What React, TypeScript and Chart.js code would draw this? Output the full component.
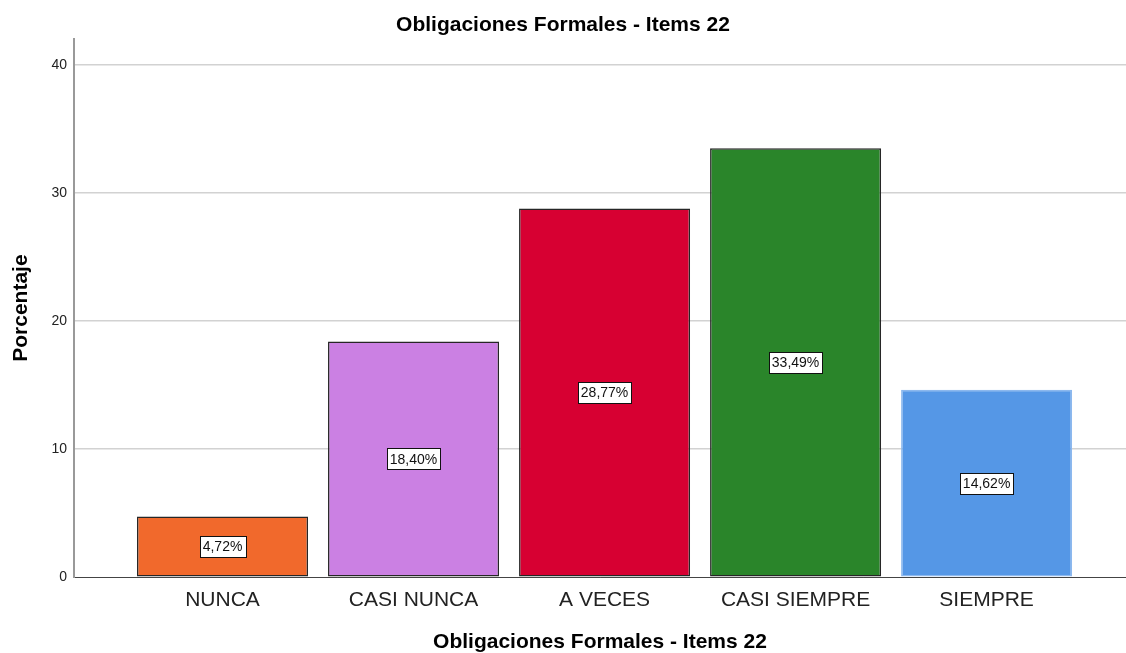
import React, { useEffect, useRef } from "react";
import { Chart, registerables } from "chart.js";

Chart.register(...registerables);

const categories = ["NUNCA", "CASI NUNCA", "A VECES", "CASI SIEMPRE", "SIEMPRE"];
const percentages = [4.72, 18.4, 28.77, 33.49, 14.62];
const yTicks = [0, 10, 20, 30, 40];
const chartTitle = "Obligaciones Formales - Items 22";
const xTitle = "Obligaciones Formales - Items 22";
const yTitle = "Porcentaje";

const fillColors = ["#F1692C", "#CB80E3", "#D70032", "#2A852A", "#5597E6"];
const edgeColors = ["#262626", "#262626", "#262626", "#262626", "#8CB8EE"];

const FONT = "'Liberation Sans', Arial, sans-serif";

const labelPlugin = {
  id: "boxLabels",
  afterDatasetsDraw(chart: any) {
    const ctx = chart.ctx;
    const meta = chart.getDatasetMeta(0);
    ctx.save();
    ctx.font = `14px ${FONT}`;
    ctx.textAlign = "center";
    ctx.textBaseline = "middle";
    meta.data.forEach((el: any, i: number) => {
      const txt = percentages[i].toFixed(2).replace(".", ",") + "%";
      const cx = el.x;
      const cy = (el.y + el.base) / 2;
      const w = ctx.measureText(txt).width + 6;
      const h = 21;
      const x0 = Math.round(cx - w / 2) + 0.5;
      const y0 = Math.round(cy - h / 2) + 0.5;
      ctx.fillStyle = "#ffffff";
      ctx.fillRect(x0, y0, Math.round(w), h);
      ctx.strokeStyle = "#111111";
      ctx.lineWidth = 1;
      ctx.strokeRect(x0, y0, Math.round(w), h);
      ctx.fillStyle = "#111111";
      ctx.fillText(txt, cx, cy + 1);
    });
    ctx.restore();
  },
};

export default function App() {
  const ref = useRef<HTMLCanvasElement | null>(null);

  useEffect(() => {
    document.body.style.margin = "0";
    document.body.style.overflow = "hidden";
    if (!ref.current) return;
    const chart = new Chart(ref.current, {
      type: "bar",
      data: {
        datasets: [
          {
            data: percentages.map((v, i) => ({ x: i, y: v })),
            backgroundColor: fillColors,
            borderColor: edgeColors,
            borderWidth: 1.5,
            borderSkipped: false,
            categoryPercentage: 1,
            barPercentage: 171 / 191,
          },
        ],
      },
      options: {
        animation: false,
        responsive: true,
        maintainAspectRatio: false,
        layout: { padding: 0 },
        plugins: {
          legend: { display: false },
          tooltip: { enabled: false },
          title: {
            display: true,
            text: chartTitle,
            color: "#000",
            font: { family: FONT, size: 21, weight: "bold" },
            padding: { top: 13, bottom: 1 },
          },
        },
        scales: {
          x: {
            type: "linear",
            offset: false,
            min: -0.7775,
            max: 4.7298,
            afterBuildTicks: (scale: any) => {
              scale.ticks = categories.map((_, i) => ({ value: i }));
            },
            afterFit: (scale: any) => {
              scale.height = 76;
            },
            ticks: {
              autoSkip: false,
              maxRotation: 0,
              padding: 11,
              color: "#222",
              font: { family: FONT, size: 21 },
              callback: (v: any) => categories[v] ?? "",
            },
            grid: { display: false, drawTicks: false, offset: false },
            border: { display: true, color: "#444", width: 1 },
            title: {
              display: true,
              text: xTitle,
              color: "#000",
              font: { family: FONT, size: 21, weight: "bold" },
              padding: { top: 0, bottom: -2 },
            },
          },
          y: {
            min: 0,
            max: 42,
            afterBuildTicks: (scale: any) => {
              scale.ticks = yTicks.map((v) => ({ value: v }));
            },
            afterFit: (scale: any) => {
              scale.width = 74;
            },
            ticks: {
              padding: 7,
              color: "#222",
              font: { family: FONT, size: 14 },
            },
            grid: {
              drawTicks: false,
              color: (c: any) => (c.tick && c.tick.value === 0 ? "#444" : "#d2d2d2"),
              lineWidth: (c: any) => (c.tick && c.tick.value === 0 ? 1 : 1.5),
            },
            border: { display: true, color: "#999", width: 2 },
            title: {
              display: true,
              text: yTitle,
              color: "#000",
              font: { family: FONT, size: 21, weight: "bold" },
              padding: { top: 9, bottom: 0 },
            },
          },
        },
      },
      plugins: [labelPlugin],
    } as any);
    return () => chart.destroy();
  }, []);

  return (
    <div style={{ position: "fixed", left: 0, top: 0, width: 1126, height: 653 }}>
      <canvas ref={ref} />
    </div>
  );
}
